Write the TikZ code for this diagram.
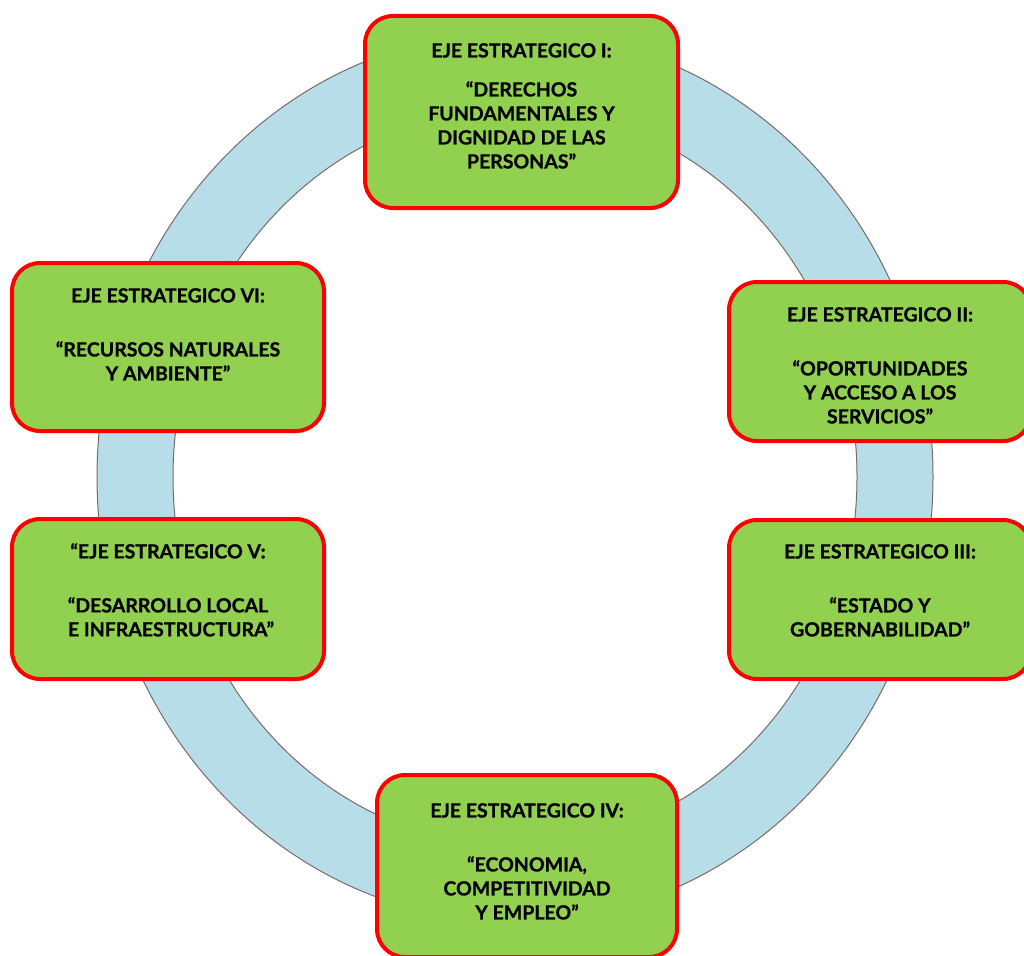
\documentclass[tikz,border=0pt]{standalone}
\usepackage{fontspec}
\setmainfont{Lato}[BoldFeatures={FakeBold=0.8}]
\definecolor{ringblue}{HTML}{B7DEE8}
\definecolor{ringline}{HTML}{7A6A6A}
\definecolor{boxgreen}{HTML}{92D050}
\definecolor{boxred}{HTML}{FF0000}
\tikzset{
  axisbox/.style={draw=boxred, line width=4pt, fill=boxgreen, rounded corners=28pt, inner sep=0pt},
  axistext/.style={anchor=north, align=center, inner sep=0pt, font=\bfseries\fontsize{19.5}{24}\selectfont, text=black}
}
\begin{document}
\begin{tikzpicture}[x=1pt,y=-1pt]
\useasboundingbox (0,0) rectangle (1024,955);
\clip (0,0) rectangle (1024,955);
\fill[white] (0,0) rectangle (1024,955);
% ring
\path[fill=ringblue, draw=ringline, line width=1pt, even odd rule]
  (515,477) ellipse [x radius=418pt, y radius=445pt]
  (515,477) ellipse [x radius=342pt, y radius=369pt];
% boxes
\node[axisbox, minimum width=313pt, minimum height=192pt] (b1) at (521.5,112) {};
\node[axisbox, minimum width=302pt, minimum height=159pt] (b2) at (880,361.5) {};
\node[axisbox, minimum width=302pt, minimum height=159pt] (b3) at (880,599.5) {};
\node[axisbox, minimum width=300pt, minimum height=182pt] (b4) at (527,866) {};
\node[axisbox, minimum width=312pt, minimum height=160pt] (b5) at (168,599) {};
\node[axisbox, minimum width=312pt, minimum height=168pt] (b6) at (168,347) {};
% texts
\node[axistext] (t1) at (521.5,43) {EJE ESTRATEGICO I:\\[15pt]“DERECHOS\\FUNDAMENTALES Y\\DIGNIDAD DE LAS\\PERSONAS”};
\node[axistext] (t2) at (880,307) {EJE ESTRATEGICO II:\\[30pt]“OPORTUNIDADES\\Y ACCESO A LOS\\SERVICIOS”};
\node[axistext] (t3) at (880,544) {EJE ESTRATEGICO III:\\[30pt]“ESTADO Y\\GOBERNABILIDAD”};
\node[axistext] (t4) at (527,803) {EJE ESTRATEGICO IV:\\[30pt]“ECONOMIA,\\COMPETITIVIDAD\\Y EMPLEO”};
\node[axistext] (t5) at (168,543) {“EJE ESTRATEGICO V:\\[30pt]“DESARROLLO LOCAL\\\hspace*{6pt}E INFRAESTRUCTURA”};
\node[axistext] (t6) at (168,288) {EJE ESTRATEGICO VI:\\[30pt]“RECURSOS NATURALES\\Y AMBIENTE”};
\end{tikzpicture}
\end{document}
